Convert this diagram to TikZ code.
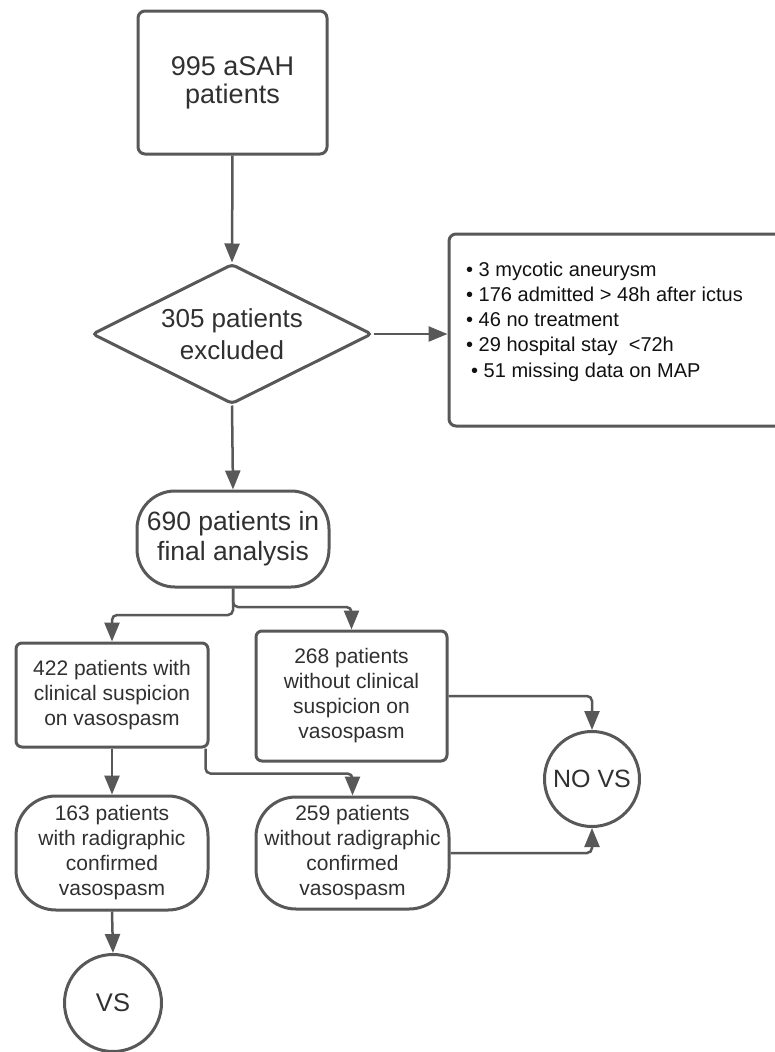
\documentclass[tikz,border=0pt]{standalone}
\usepackage{fontspec}
\setmainfont{Liberation Sans}
\usetikzlibrary{arrows.meta,shapes.geometric}
\definecolor{ln}{HTML}{585858}
\definecolor{tx}{HTML}{303030}
\definecolor{tk}{HTML}{111111}
\begin{document}
\begin{tikzpicture}[x=1pt,y=-1pt,
  every node/.style={inner sep=0pt, text=tx, align=center},
  box/.style={draw=ln, line width=3pt, rounded corners=7pt, fill=white},
  pill/.style={draw=ln, line width=3pt, rounded corners=40pt, fill=white},
  dia/.style={draw=ln, line width=3pt, diamond, aspect=2, rounded corners=4pt, fill=white},
  circ/.style={draw=ln, line width=3pt, circle, fill=white},
  conn/.style={draw=ln, line width=2.5pt, -{Triangle[width=15pt,length=19pt]}, rounded corners=5pt}]
\useasboundingbox (0,0) rectangle (774,1052);
\fill[white] (0,0) rectangle (774,1052);

\node[box, minimum width=189pt, minimum height=143pt, font=\fontsize{27}{28}\selectfont] (top) at (232.5,82.5) {995 aSAH\\patients};
\node[dia, minimum width=280pt, minimum height=140pt, font=\fontsize{26}{32}\selectfont] (dia) at (232,334) {305 patients\\excluded};
\node[box, minimum width=340pt, minimum height=192pt] (exbox) at (619,330) {};
\node[anchor=west, align=left, text=tk, font=\fontsize{20}{25}\selectfont] (extext) at (466,322)
  {• 3 mycotic aneurysm\\• 176 admitted > 48h after ictus\\• 46 no treatment\\• 29 hospital stay~ <72h\\[1.5pt]\hspace{5pt}• 51 missing data on MAP};
\node[pill, minimum width=192pt, minimum height=96pt, rounded corners=38pt, font=\fontsize{26.5}{30}\selectfont] (fin) at (233,539) {690 patients in\\final analysis};
\node[box, rounded corners=6pt, minimum width=192pt, minimum height=104pt, font=\fontsize{21}{25}\selectfont] (b422) at (112,695) {422 patients with\\clinical suspicion\\on vasospasm};
\node[box, rounded corners=6pt, minimum width=191pt, minimum height=130pt, font=\fontsize{21}{25}\selectfont] (b268) at (351.5,696) {268 patients\\without clinical\\suspicion on\\vasospasm};
\node[pill, minimum width=192pt, minimum height=114pt, font=\fontsize{21}{25}\selectfont] (p163) at (112,853) {163 patients\\with radigraphic\\confirmed\\vasospasm};
\node[pill, minimum width=193pt, minimum height=112pt, font=\fontsize{21}{25}\selectfont] (p259) at (352.5,853) {259 patients\\without radigraphic\\confirmed\\vasospasm};
\node[circ, minimum size=95pt, font=\fontsize{25}{28}\selectfont] (novs) at (592,779) {NO VS};
\node[circ, minimum size=97pt, font=\fontsize{25.5}{28}\selectfont] (vs) at (113,1003) {VS};

\draw[conn] (top.south) -- (dia.north);
\draw[conn] (dia.east) -- (dia.east -| exbox.west);
\draw[conn] (dia.south) -- (fin.north);
\draw[conn] (fin.south) -- (fin.south |- 0,615) -| (b422.north);
\draw[conn] (fin.south) -- (fin.south |- 0,607) -| (b268.north);
\draw[conn] (b422.south) -- (p163.north);
\draw[conn] ([xshift=-4pt]b422.south east) -- ++(0,25) -| (p259.north);
\draw[conn] (b268.east) -| (novs.north);
\draw[conn] (p259.east) -| (novs.south);
\draw[conn] (p163.south) -- (vs.north);
\end{tikzpicture}
\end{document}
